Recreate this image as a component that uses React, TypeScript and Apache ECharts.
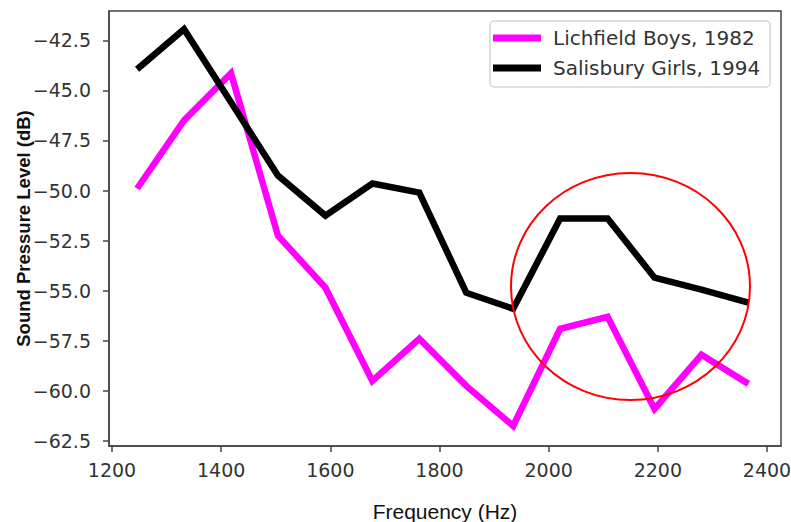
import React, { useEffect, useRef } from "react";
import * as echarts from "echarts";

const frequencies = [1246, 1332, 1418, 1504, 1591, 1677, 1763, 1849, 1935, 2021, 2108, 2194, 2280, 2366];
const lichfieldBoys1982 = [-49.9, -46.5, -44.15, -52.25, -54.85, -59.5, -57.4, -59.75, -61.75, -56.9, -56.3, -60.9, -58.2, -59.65];
const salisburyGirls1994 = [-43.95, -41.95, -45.6, -49.25, -51.25, -49.65, -50.1, -55.1, -55.9, -51.4, -51.4, -54.35, -54.95, -55.6];
const xTicks = [1200, 1400, 1600, 1800, 2000, 2200, 2400];
const yTicks = [-62.5, -60.0, -57.5, -55.0, -52.5, -50.0, -47.5, -45.0, -42.5];
const seriesNames = ["Lichfield Boys, 1982", "Salisbury Girls, 1994"];
const xAxisName = "Frequency (Hz)";
const yAxisName = "Sound Pressure Level (dB)";

const tickFont = "DejaVu Sans";
const labelFont = "Liberation Sans";

export default function App() {
  const ref = useRef<HTMLDivElement>(null);
  useEffect(() => {
    if (!ref.current) return;
    const chart = echarts.init(ref.current, null, { renderer: "svg" });
    const fmtY = (v: number) => (v < 0 ? "\u2212" : "") + Math.abs(v).toFixed(1);
    chart.setOption({
      animation: false,
      backgroundColor: "#fff",
      grid: {
        left: 109,
        top: 11,
        right: 10,
        bottom: 76,
        outerBoundsMode: "none",
        containLabel: false,
        show: true,
        borderColor: "#444",
        borderWidth: 1.5,
        backgroundColor: "transparent",
      },
      legend: {
        orient: "vertical",
        left: 490,
        top: 21,
        padding: [7, 10, 9, 3],
        itemGap: 10,
        itemWidth: 48,
        itemHeight: 7,
        icon: "rect",
        backgroundColor: "#fff",
        borderColor: "#d4d4d4",
        borderWidth: 1.5,
        borderRadius: 4,
        textStyle: {
          fontFamily: tickFont,
          fontSize: 20,
          color: "#333",
          padding: [0, 0, 0, 7],
        },
        data: seriesNames,
      },
      xAxis: {
        type: "value",
        min: 1194.5,
        max: 2425.7,
        name: xAxisName,
        nameLocation: "middle",
        nameGap: 55,
        nameMoveOverlap: false,
        nameTextStyle: { fontFamily: labelFont, fontSize: 21, color: "#111" },
        splitLine: { show: false },
        axisLine: { show: true, lineStyle: { color: "#444", width: 1.5 } },
        axisTick: { show: true, length: 6, lineStyle: { color: "#444", width: 1.5 }, customValues: xTicks },
        axisLabel: {
          fontFamily: tickFont,
          fontSize: 19,
          color: "#333",
          margin: 14,
          customValues: xTicks,
          formatter: (v: number) => String(v),
        },
      },
      yAxis: {
        type: "value",
        min: -62.75,
        max: -41.04,
        name: yAxisName,
        nameLocation: "middle",
        nameGap: 76,
        nameMoveOverlap: false,
        nameRotate: 90,
        nameTextStyle: { fontFamily: labelFont, fontSize: 18.5, fontWeight: "bold", color: "#111" },
        splitLine: { show: false },
        axisLine: { show: true, lineStyle: { color: "#444", width: 1.5 } },
        axisTick: { show: true, length: 6, lineStyle: { color: "#444", width: 1.5 }, customValues: yTicks },
        axisLabel: {
          fontFamily: tickFont,
          fontSize: 19,
          color: "#333",
          margin: 18,
          customValues: yTicks,
          formatter: fmtY,
        },
      },
      series: [
        {
          name: seriesNames[0],
          type: "line",
          data: frequencies.map((f, i) => [f, lichfieldBoys1982[i]]),
          showSymbol: false,
          symbol: "none",
          color: "#ff00ff",
          lineStyle: { color: "#ff00ff", width: 6.5, join: "miter" },
          z: 2,
        },
        {
          name: seriesNames[1],
          type: "line",
          data: frequencies.map((f, i) => [f, salisburyGirls1994[i]]),
          showSymbol: false,
          symbol: "none",
          color: "#000",
          lineStyle: { color: "#000", width: 6.5, join: "miter" },
          z: 3,
        },
      ],
      graphic: [
        {
          type: "ellipse",
          shape: { cx: 630.5, cy: 286.5, rx: 119.5, ry: 113.5 },
          style: { fill: "none", stroke: "#ff0000", lineWidth: 2 },
          z: 100,
        },
      ],
    });
    return () => chart.dispose();
  }, []);
  return <div ref={ref} style={{ width: 791, height: 522, position: "absolute", left: 0, top: 0 }} />;
}
